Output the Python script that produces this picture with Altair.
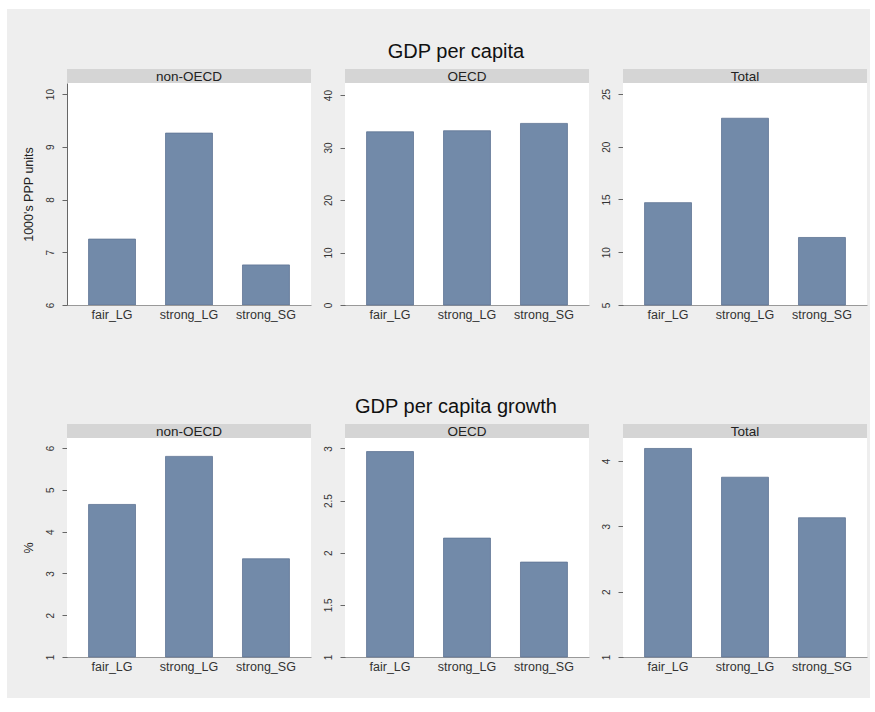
import altair as alt
import pandas as pd

# Categories
groups = ["fair_LG", "strong_LG", "strong_SG"]
regions = ["non-OECD", "OECD", "Total"]

# GDP per capita (1000's PPP units)
gdp_non_oecd = [7.25, 9.26, 6.76]
gdp_oecd = [33.0, 33.2, 34.6]
gdp_total = [14.7, 22.7, 11.4]

# GDP per capita growth (%)
growth_non_oecd = [4.65, 5.80, 3.35]
growth_oecd = [2.97, 2.14, 1.91]
growth_total = [4.19, 3.75, 3.13]

# Axis tick labels per panel
gdp_ticks = [[6, 7, 8, 9, 10], [0, 10, 20, 30, 40], [5, 10, 15, 20, 25]]
growth_ticks = [[1, 2, 3, 4, 5, 6], [1, 1.5, 2, 2.5, 3], [1, 2, 3, 4]]

# Upper end of each y axis (range plus plot-region margin)
gdp_top = [10.21, 42.3, 26.04]
growth_top = [6.24, 3.10, 4.35]

W = 244
STRIP = 14
BAR = "#728aa9"
BAR_EDGE = "#5f7594"
STRIP_FILL = "#d5d5d5"
OUTER = "#eeeeee"
FONT = "Liberation Sans"
ONE = pd.DataFrame({"k": [0]})


def panel(values, ticks, top, region, height, ytitle=None, row_title=None,
          frame=False):
    df = pd.DataFrame({"group": groups, "value": values,
                       "base": [ticks[0]] * len(groups)})
    z = 1 if frame else 0
    yaxis_kw = dict(values=ticks, format="~f", labelAngle=-90,
                    labelAlign="center", labelBaseline="bottom",
                    labelFontSize=10, labelPadding=7, tickSize=5,
                    domainColor="#666666", tickColor="#666666",
                    labelColor="#333333", grid=False, zindex=z)
    if ytitle:
        yaxis_kw.update(title=ytitle, titleFontSize=12.5,
                        titleFontWeight="normal", titleColor="#222222",
                        titlePadding=10)
    else:
        yaxis_kw.update(title=None)
    xaxis = alt.Axis(title=None, labelAngle=0, ticks=False, labelPadding=3,
                     labelFontSize=12.5, labelColor="#333333",
                     domainColor="#999999", zindex=z)

    layers = []
    if frame:
        # page margin and light-gray graph region
        layers.append(alt.Chart(ONE).mark_rect(fill="white").encode(
            x=alt.value(-67), x2=alt.value(808),
            y=alt.value(-83), y2=alt.value(629)))
        layers.append(alt.Chart(ONE).mark_rect(fill=OUTER).encode(
            x=alt.value(-60), x2=alt.value(803),
            y=alt.value(-74), y2=alt.value(615)))
    # plot region
    layers.append(alt.Chart(ONE).mark_rect(fill="white").encode(
        x=alt.value(0), x2=alt.value(W), y=alt.value(0), y2=alt.value(height)))

    bars = alt.Chart(df).mark_bar(color=BAR, stroke=BAR_EDGE,
                                  strokeWidth=0.8).encode(
        x=alt.X("group:N", sort=groups,
                scale=alt.Scale(paddingInner=0.39, paddingOuter=0.28),
                axis=xaxis),
        y=alt.Y("value:Q",
                scale=alt.Scale(domain=[ticks[0], top], nice=False, zero=False),
                axis=alt.Axis(**yaxis_kw)),
        y2=alt.Y2("base"),
    )
    layers.append(bars)

    # facet strip
    lab = pd.DataFrame({"label": [region]})
    layers.append(alt.Chart(lab).mark_rect(fill=STRIP_FILL).encode(
        x=alt.value(0), x2=alt.value(W),
        y=alt.value(-STRIP), y2=alt.value(0)))
    layers.append(alt.Chart(lab).mark_text(
        baseline="middle", align="center", fontSize=13.5, color="#222222",
        font=FONT).encode(
        x=alt.value(W / 2), y=alt.value(-STRIP / 2 + 0.5), text="label:N"))

    if row_title:
        t = pd.DataFrame({"label": [row_title]})
        layers.append(alt.Chart(t).mark_text(
            baseline="alphabetic", align="center", fontSize=20,
            color="#111111", font=FONT).encode(
            x=alt.value(389), y=alt.value(-25.5), text="label:N"))

    return alt.layer(*layers).properties(width=W, height=height)


H1, H2 = 222, 219

row1 = alt.HConcatChart(
    hconcat=[
        panel(gdp_non_oecd, gdp_ticks[0], gdp_top[0], regions[0], H1,
              ytitle="1000's PPP units", row_title="GDP per capita",
              frame=True),
        panel(gdp_oecd, gdp_ticks[1], gdp_top[1], regions[1], H1),
        panel(gdp_total, gdp_ticks[2], gdp_top[2], regions[2], H1),
    ],
    spacing=34, bounds="flush")

row2 = alt.HConcatChart(
    hconcat=[
        panel(growth_non_oecd, growth_ticks[0], growth_top[0], regions[0], H2,
              ytitle="%", row_title="GDP per capita growth"),
        panel(growth_oecd, growth_ticks[1], growth_top[1], regions[1], H2),
        panel(growth_total, growth_ticks[2], growth_top[2], regions[2], H2),
    ],
    spacing=34, bounds="flush")

# the nested rows report no flush height, so the gap spans row 1's plot too
chart = alt.VConcatChart(vconcat=[row1, row2], spacing=H1 + 133,
                         bounds="flush", padding=0,
                         background="white").configure(
    font=FONT
).configure_view(strokeWidth=0, fill="white")

chart.save("out.html", embed_options={"renderer": "svg", "actions": False})
